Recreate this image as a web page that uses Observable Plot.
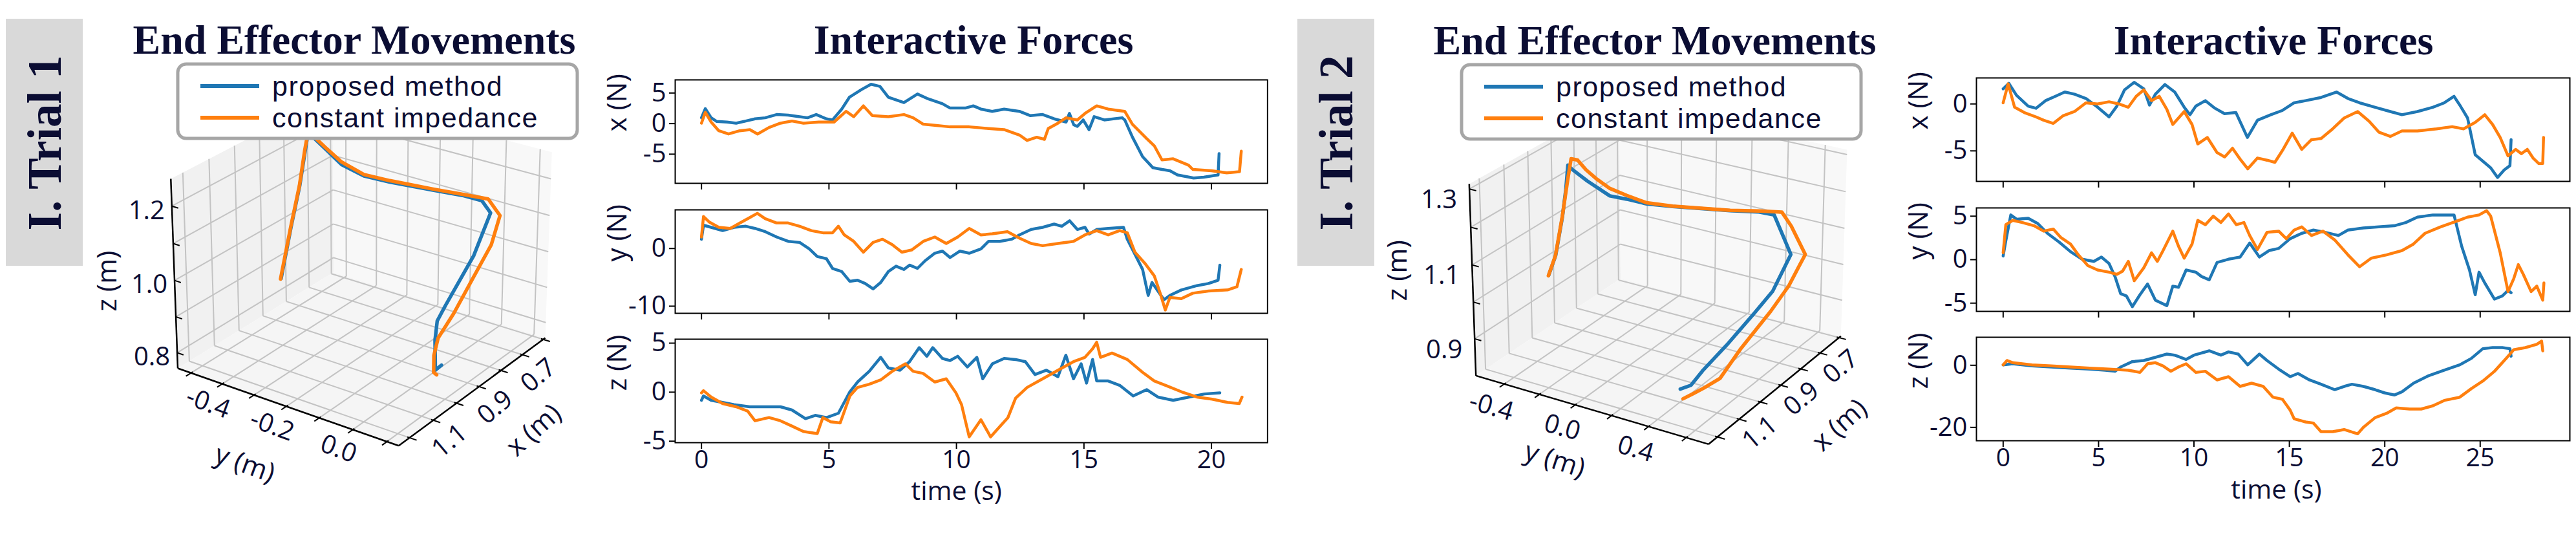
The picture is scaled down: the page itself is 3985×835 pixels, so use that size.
<!DOCTYPE html>
<html><head><meta charset="utf-8">
<script src="https://cdn.jsdelivr.net/npm/d3@7"></script>
<script src="https://cdn.jsdelivr.net/npm/@observablehq/plot@0.6"></script>
<style>
body{margin:0;background:#fff;}
#root{position:relative;width:3985px;height:835px;overflow:hidden;background:#fff;font-family:"Open Sans",sans-serif;}
</style></head>
<body><div id="root"></div>
<script>
const NAVY = "#0b0d33", BLUE = "#1f77b4", ORANGE = "#ff7f0e";

// ---------- Trial 1 : interactive forces [time s, force N] ----------
const t1x_prop = [[0,0.95],[0.15,2.44],[0.38,0.95],[0.6,0.35],[1.0,0.25],[1.36,0.07],[1.74,0.42],[2.1,0.78],[2.5,0.95],[2.95,1.48],[3.4,1.38],[3.85,1.13],[4.16,0.95],[4.5,1.48],[4.9,0.78],[5.14,0.6],[5.5,2.37],[5.8,4.3],[6.27,5.55],[6.65,6.43],[7.0,6.08],[7.33,4.31],[7.94,3.43],[8.47,4.84],[8.84,4.13],[9.45,3.25],[9.75,2.54],[10.35,2.54],[10.66,2.9],[10.96,2.37],[11.4,2.0],[11.87,2.37],[12.47,2.0],[12.9,1.3],[13.38,1.48],[13.83,0.78],[14.3,0.25],[14.43,1.66],[14.6,-0.2],[14.74,-0.46],[14.97,0.6],[15.2,-0.99],[15.4,1.13],[15.8,0.6],[16.5,0.95],[16.6,0.6],[16.9,-2.2],[17.3,-5.4],[17.7,-7.2],[18.06,-7.5],[18.37,-7.7],[18.67,-8.4],[19.3,-8.9],[19.7,-8.76],[20.26,-8.4],[20.3,-4.9]];
const t1x_const = [[0,0.07],[0.15,1.84],[0.38,0.25],[0.68,-1.17],[1.06,-1.7],[1.5,-1.17],[1.9,-0.99],[2.2,-1.7],[2.65,-0.64],[3.1,0.07],[3.55,0.42],[4.0,0.07],[4.6,0.25],[5.2,0.25],[5.67,2.0],[5.97,1.13],[6.35,2.9],[6.7,1.3],[7.33,1.13],[7.94,1.48],[8.3,0.95],[8.7,-0.1],[9.15,-0.28],[9.75,-0.53],[10.5,-0.53],[11.26,-0.81],[11.87,-0.99],[12.47,-1.87],[12.77,-2.76],[13.15,-2.23],[13.45,-2.58],[13.6,-0.81],[13.98,0.07],[14.3,0.95],[14.74,0.6],[15.04,1.66],[15.5,2.9],[15.95,2.37],[16.6,2.0],[16.9,-0.1],[17.45,-2.4],[17.76,-3.64],[18.06,-5.94],[18.5,-5.76],[19.1,-6.8],[19.27,-7.5],[20.0,-7.7],[20.6,-8.05],[21.1,-7.88],[21.17,-4.52]];
const t1y_prop = [[0,1.6],[0.08,4.04],[0.38,3.67],[0.83,3.1],[1.28,3.67],[1.74,3.86],[2.1,3.48],[2.5,2.92],[2.95,1.99],[3.4,1.24],[3.85,1.05],[4.23,-0.07],[4.54,-1.39],[4.9,-1.76],[5.14,-3.45],[5.5,-4.0],[5.82,-5.7],[6.12,-5.5],[6.42,-6.07],[6.73,-7.0],[7.03,-5.88],[7.33,-4.0],[7.63,-3.07],[7.94,-3.63],[8.16,-2.88],[8.47,-3.45],[8.77,-2.13],[9.15,-0.82],[9.45,-0.45],[9.75,-1.57],[10.13,-0.45],[10.5,-0.82],[10.96,-0.07],[11.26,1.24],[11.7,1.24],[12.17,1.61],[12.47,2.36],[12.93,3.3],[13.38,3.67],[13.83,4.23],[14.13,3.86],[14.44,4.8],[14.74,3.3],[15.04,3.67],[15.2,2.5],[15.5,3.3],[15.95,3.48],[16.55,3.67],[16.7,1.6],[17.0,-1.0],[17.3,-3.63],[17.52,-8.13],[17.67,-5.88],[17.9,-7.38],[18.14,-8.88],[18.37,-8.13],[18.82,-7.19],[19.43,-6.44],[19.88,-6.07],[20.26,-5.5],[20.33,-2.88]];
const t1y_const = [[0,1.99],[0.08,5.54],[0.3,4.6],[0.68,3.67],[1.13,3.48],[1.51,4.42],[1.89,5.36],[2.19,6.1],[2.5,5.17],[2.95,4.42],[3.4,4.42],[3.85,3.86],[4.31,3.1],[4.76,2.73],[5.14,2.73],[5.37,3.86],[5.6,2.36],[5.97,1.24],[6.35,-0.64],[6.73,1.05],[7.1,1.61],[7.48,0.67],[7.86,-0.64],[8.24,-0.26],[8.7,1.24],[9.15,1.99],[9.6,0.86],[10.05,1.99],[10.5,3.48],[10.96,2.36],[11.41,2.55],[12.0,2.92],[12.47,1.8],[12.93,0.86],[13.38,0.49],[13.98,0.86],[14.59,1.24],[15.04,2.36],[15.5,3.1],[15.95,2.36],[16.4,3.1],[16.7,2.73],[17.0,-0.64],[17.38,-2.51],[17.76,-4.76],[17.99,-7.75],[18.19,-10.67],[18.37,-8.5],[18.82,-8.69],[19.27,-7.75],[19.88,-7.38],[20.63,-7.19],[21.0,-6.63],[21.17,-3.63]];
const t1z_prop = [[0,-0.83],[0.08,-0.39],[0.38,-0.83],[0.83,-1.05],[1.28,-1.27],[1.89,-1.49],[2.5,-1.49],[3.1,-1.49],[3.55,-1.82],[4.08,-2.7],[4.46,-2.37],[4.91,-2.59],[5.37,-2.15],[5.82,0.04],[6.12,1.03],[6.58,2.13],[7.03,3.55],[7.33,2.46],[7.79,2.24],[8.16,3.11],[8.54,4.54],[8.84,3.66],[9.07,4.54],[9.45,3.44],[9.75,3.22],[10.05,3.66],[10.43,2.57],[10.8,3.55],[11.03,1.36],[11.41,2.89],[11.87,3.44],[12.32,3.33],[12.7,3.11],[13.08,1.8],[13.53,2.24],[13.98,1.58],[14.29,3.77],[14.59,1.36],[14.89,2.89],[15.1,0.92],[15.34,3.33],[15.5,1.14],[15.95,1.14],[16.4,0.7],[16.93,-0.39],[17.46,0.26],[17.9,-0.5],[18.5,-0.83],[19.12,-0.5],[19.73,-0.18],[20.33,-0.07]];
const t1z_const = [[0,-0.07],[0.08,0.15],[0.38,-0.5],[0.83,-1.16],[1.36,-1.49],[1.81,-1.93],[2.1,-2.92],[2.65,-2.59],[3.1,-2.92],[3.55,-3.46],[4.0,-4.01],[4.54,-4.23],[4.76,-2.59],[5.07,-3.03],[5.44,-3.14],[5.82,-0.39],[6.12,0.48],[6.58,0.81],[7.03,1.25],[7.48,2.13],[8.0,2.89],[8.3,2.13],[8.69,1.91],[9.15,1.03],[9.6,1.36],[9.98,-0.07],[10.2,-1.27],[10.5,-4.56],[10.96,-2.81],[11.34,-4.56],[11.72,-3.46],[12.02,-2.59],[12.32,-0.61],[12.77,0.48],[13.38,1.36],[13.98,2.24],[14.59,3.11],[15.04,3.55],[15.34,4.43],[15.5,5.09],[15.65,3.55],[16.1,3.99],[16.7,3.33],[17.3,2.02],[17.76,1.14],[18.2,0.7],[18.82,0.04],[19.43,-0.5],[20.03,-0.72],[20.63,-1.05],[21.09,-1.16],[21.2,-0.5]];

// ---------- Trial 2 : interactive forces ----------
const t2x_prop = [[0,1.61],[0.3,2.19],[0.7,0.92],[1.31,-0.23],[1.72,-0.46],[2.22,0.35],[2.73,0.81],[3.23,1.27],[3.74,1.04],[4.34,0.58],[4.95,-0.35],[5.55,-1.38],[5.96,-0.23],[6.36,1.5],[6.87,2.3],[7.37,1.61],[7.67,-0.12],[7.98,1.04],[8.48,2.07],[8.99,1.27],[9.49,-0.35],[9.79,-1.15],[10.1,-0.23],[10.6,0.35],[11.1,-0.46],[11.6,-1.04],[12.2,-0.92],[12.8,-3.57],[13.33,-1.73],[14.03,-1.15],[14.64,-0.69],[15.25,0.12],[15.85,0.35],[16.66,0.69],[17.47,1.27],[18.07,0.58],[18.68,0.12],[19.49,-0.35],[20.29,-0.81],[20.9,-1.15],[21.71,-0.81],[22.52,-0.35],[23.12,0.12],[23.63,0.81],[23.93,-0.12],[24.34,-1.5],[24.74,-5.41],[25.14,-6.1],[25.55,-6.8],[25.91,-7.83],[26.26,-7.03],[26.56,-6.57],[26.62,-3.8]];
const t2x_const = [[0,0.12],[0.26,2.14],[0.6,-0.35],[1.11,-0.92],[1.72,-1.38],[2.12,-1.73],[2.63,-2.07],[3.13,-1.27],[3.74,-0.81],[4.34,0.12],[4.95,0],[5.55,0.23],[6.06,0],[6.56,-0.35],[6.97,0.81],[7.37,1.5],[7.78,0.35],[8.18,0.81],[8.58,-0.58],[8.89,-2.19],[9.49,-0.81],[9.9,-2.19],[10.2,-4.26],[10.7,-3.57],[11.21,-5.18],[11.61,-5.65],[12.02,-4.72],[12.42,-5.88],[12.82,-6.91],[13.33,-5.76],[13.83,-5.99],[14.24,-6.22],[14.64,-4.95],[15.15,-3.11],[15.65,-4.84],[16.16,-3.8],[16.66,-3.69],[17.27,-2.65],[17.87,-1.5],[18.58,-0.81],[19.18,-1.84],[19.69,-3.0],[20.29,-3.46],[20.9,-2.88],[21.71,-2.88],[22.72,-2.65],[23.53,-2.42],[24.13,-2.65],[24.74,-1.96],[25.24,-1.15],[25.65,-2.19],[26.05,-3.57],[26.46,-5.53],[26.86,-4.84],[27.16,-5.3],[27.47,-4.84],[27.77,-5.76],[28.07,-6.34],[28.28,-6.34],[28.32,-3.57]];
const t2y_prop = [[0,0.42],[0.14,2.16],[0.4,5.14],[0.71,4.64],[1.31,4.76],[1.82,4.14],[2.32,3.03],[2.93,2.03],[3.53,0.92],[4.14,0.05],[4.75,-0.2],[5.15,0.3],[5.55,-0.45],[5.86,-1.94],[6.16,-3.92],[6.46,-4.17],[6.77,-5.41],[7.17,-4.04],[7.57,-2.8],[7.98,-4.66],[8.58,-5.29],[8.89,-3.05],[9.19,-3.18],[9.59,-1.19],[10.1,-1.44],[10.4,-1.94],[10.8,-2.31],[11.21,-0.32],[11.81,0.05],[12.42,0.3],[12.92,1.91],[13.43,0.3],[13.93,1.04],[14.44,1.29],[15.04,2.41],[15.65,3.03],[16.26,3.4],[16.86,3.15],[17.57,2.78],[18.07,3.4],[18.88,3.65],[19.69,3.77],[20.5,3.9],[21.1,4.27],[21.71,4.89],[22.52,5.14],[23.23,5.14],[23.63,5.14],[24.03,1.54],[24.44,-1.19],[24.74,-4.04],[24.94,-1.44],[25.24,-2.68],[25.75,-4.54],[26.16,-4.17],[26.46,-3.55],[26.62,-3.8]];
const t2y_const = [[0,0.79],[0.14,4.02],[0.5,4.52],[1.01,4.27],[1.62,3.9],[2.12,3.28],[2.63,3.52],[3.03,2.53],[3.53,1.79],[3.94,0.55],[4.44,-0.69],[4.95,-1.19],[5.55,-1.44],[5.96,-1.69],[6.26,-1.32],[6.56,-0.2],[6.87,-2.43],[7.37,-0.94],[7.78,0.79],[8.08,-0.2],[8.38,1.04],[8.89,3.28],[9.19,1.54],[9.49,0.17],[9.9,1.79],[10.2,4.52],[10.6,4.02],[11.01,5.01],[11.41,4.27],[11.81,5.26],[12.22,4.02],[12.62,4.27],[12.92,2.78],[13.33,1.17],[13.83,3.15],[14.44,3.28],[14.84,2.41],[15.25,3.4],[15.65,3.77],[16.16,2.78],[16.76,3.28],[17.37,2.28],[18.07,0.55],[18.68,-0.82],[19.29,0.17],[20.09,0.55],[20.9,1.04],[21.5,1.79],[22.11,3.03],[22.92,3.77],[23.73,4.39],[24.34,4.89],[24.94,5.14],[25.34,5.63],[25.55,5.01],[26.05,0.79],[26.46,-3.67],[26.76,-2.18],[27.0,-0.57],[27.26,-1.69],[27.67,-3.67],[27.97,-3.05],[28.28,-4.66],[28.34,-2.68]];
const t2z_prop = [[0,0.14],[0.5,0.49],[1.51,-0.21],[2.52,-0.56],[3.53,-0.9],[4.54,-1.25],[5.35,-1.6],[5.86,-1.94],[6.16,-0.56],[6.77,1.18],[7.37,1.53],[7.98,2.57],[8.58,3.61],[8.99,3.26],[9.59,1.88],[10.0,3.26],[10.8,4.65],[11.41,3.26],[11.81,4.31],[12.32,3.61],[12.82,0.14],[13.43,3.61],[13.83,1.53],[14.44,-1.25],[15.04,-3.68],[15.45,-2.64],[16.05,-4.72],[16.66,-6.11],[17.37,-7.85],[17.87,-6.81],[18.28,-6.11],[18.88,-6.81],[19.49,-7.85],[19.99,-8.89],[20.5,-9.58],[20.9,-8.54],[21.51,-5.76],[22.31,-3.33],[23.12,-1.6],[23.93,0.14],[24.54,2.22],[25.14,5.35],[25.65,5.69],[26.16,5.69],[26.56,5.35],[26.62,2.92]];
const t2z_const = [[0,0.14],[0.2,1.53],[0.5,0.83],[1.51,0.14],[2.52,-0.21],[3.53,-0.56],[4.54,-0.9],[5.55,-1.25],[6.56,-1.6],[7.17,-2.29],[7.57,0.49],[7.98,0.83],[8.38,-0.21],[8.79,-1.94],[9.19,-0.56],[9.59,0.49],[10.1,-2.29],[10.6,-1.94],[11.21,-4.72],[11.81,-3.68],[12.42,-6.81],[13.02,-5.76],[13.63,-6.81],[14.14,-10.28],[14.64,-10.97],[15.04,-14.44],[15.25,-17.22],[15.85,-18.26],[16.26,-18.61],[16.66,-21.39],[17.27,-21.39],[17.87,-20.69],[18.58,-22.08],[18.88,-20.0],[19.49,-16.88],[20.09,-15.49],[20.6,-13.75],[21.3,-14.1],[21.91,-14.1],[22.52,-13.06],[23.12,-11.32],[23.93,-10.28],[24.54,-7.5],[25.14,-5.07],[25.75,-1.94],[26.36,2.22],[26.76,5.0],[27.37,5.69],[27.97,6.74],[28.22,7.78],[28.28,4.65]];

// ---------- End effector trajectories [x m, y m, z m] ----------
const t1ee_prop = [[0.85,-0.520,0.850],[0.85,-0.485,1.006],[0.85,-0.455,1.130],[0.85,-0.436,1.232],[0.85,-0.429,1.268],[0.85,-0.408,1.272],[0.85,-0.374,1.252],[0.85,-0.322,1.221],[0.85,-0.253,1.207],[0.85,-0.174,1.210],[0.85,-0.042,1.221],[0.85,0.045,1.229],[0.85,0.098,1.229],[0.86,0.130,1.209],[0.89,0.104,1.101],[0.92,0.043,0.960],[0.93,0.027,0.919],[0.94,0.028,0.870],[0.95,0.037,0.795],[0.95,0.055,0.814]];
const t1ee_const = [[0.85,-0.522,0.848],[0.85,-0.486,1.006],[0.85,-0.456,1.130],[0.85,-0.437,1.235],[0.85,-0.429,1.272],[0.85,-0.408,1.276],[0.85,-0.374,1.256],[0.85,-0.322,1.228],[0.85,-0.253,1.211],[0.85,-0.174,1.214],[0.85,-0.042,1.224],[0.85,0.045,1.232],[0.85,0.116,1.238],[0.86,0.157,1.209],[0.88,0.147,1.137],[0.90,0.110,1.047],[0.92,0.069,0.948],[0.94,0.037,0.879],[0.95,0.032,0.834],[0.95,0.032,0.787],[0.95,0.041,0.783]];
const t2ee_prop = [[0.97,-0.499,0.971],[0.97,-0.456,1.031],[0.97,-0.412,1.144],[0.97,-0.390,1.220],[0.97,-0.376,1.286],[0.965,-0.360,1.275],[0.955,-0.286,1.248],[0.94,-0.180,1.215],[0.93,-0.098,1.212],[0.92,0.001,1.207],[0.905,0.125,1.209],[0.89,0.264,1.214],[0.875,0.403,1.219],[0.86,0.540,1.226],[0.85,0.609,1.223],[0.80,0.649,1.103],[0.86,0.620,1.024],[0.91,0.574,0.977],[0.98,0.511,0.915],[1.04,0.452,0.864],[1.07,0.424,0.834],[1.09,0.390,0.828]];
const t2ee_const = [[0.97,-0.501,0.969],[0.97,-0.457,1.031],[0.97,-0.413,1.144],[0.97,-0.378,1.248],[0.97,-0.357,1.305],[0.965,-0.327,1.303],[0.96,-0.287,1.280],[0.95,-0.244,1.258],[0.94,-0.179,1.235],[0.93,-0.097,1.222],[0.92,0.001,1.210],[0.905,0.125,1.210],[0.89,0.264,1.215],[0.875,0.403,1.220],[0.86,0.543,1.229],[0.85,0.649,1.235],[0.83,0.679,1.194],[0.79,0.715,1.107],[0.80,0.695,1.078],[0.83,0.673,1.033],[0.88,0.633,0.980],[0.96,0.566,0.905],[1.03,0.534,0.850],[1.07,0.493,0.836],[1.095,0.467,0.829],[1.116,0.436,0.820]];

// ---------- tick values ----------
const t1_timeTicks = [0,5,10,15,20];
const t2_timeTicks = [0,5,10,15,20,25];
const t1_fxTicks = [5,0,-5], t1_fyTicks = [0,-10], t1_fzTicks = [5,0,-5];
const t2_fxTicks = [0,-5], t2_fyTicks = [5,0,-5], t2_fzTicks = [0,-20];
const t1_xTicks = [0.6,0.7,0.8,0.9,1.0,1.1,1.2], t1_yTicks = [-0.5,-0.4,-0.3,-0.2,-0.1,0.0,0.1], t1_zTicks = [0.8,0.9,1.0,1.1,1.2];
const t1_xLab = [1.1,0.9,0.7], t1_yLab = [-0.4,-0.2,0.0], t1_zLab = [0.8,1.0,1.2];
const t2_xTicks = [0.6,0.7,0.8,0.9,1.0,1.1,1.2], t2_yTicks = [-0.4,-0.2,0.0,0.2,0.4,0.6], t2_zTicks = [0.9,1.0,1.1,1.2,1.3];
const t2_xLab = [1.1,0.9,0.7], t2_yLab = [-0.4,0.0,0.4], t2_zLab = [0.9,1.1,1.3];

const root = document.getElementById("root");
function place(el, left, top) {
  el.style.position = "absolute"; el.style.left = left + "px"; el.style.top = top + "px";
  el.style.maxWidth = "none";
  root.appendChild(el);
}
const fmt = d => String(d);

// ---------- force panels ----------
function forcePanel(o) {
  const ml = 150, mr = 10, mt = 10, mb = o.showX ? 125 : 24;
  const marks = [
    Plot.line(o.blue, {x: d => d[0], y: d => d[1], stroke: BLUE, strokeWidth: 4.5, strokeLinejoin: "round"}),
    Plot.line(o.orange, {x: d => d[0], y: d => d[1], stroke: ORANGE, strokeWidth: 4.5, strokeLinejoin: "round"}),
    Plot.frame({stroke: "black", strokeWidth: 2}),
    Plot.axisY({ticks: o.yTicks, tickSize: 9, tickPadding: 5, fontSize: 40, tickFormat: fmt, label: null, stroke: "black", strokeWidth: 2, fill: NAVY}),
    Plot.axisX({ticks: o.xTicks, tickSize: 10, tickPadding: 2, fontSize: 39, tickFormat: o.showX ? fmt : () => "", label: null, stroke: "black", strokeWidth: 2, fill: NAVY}),
    Plot.text([o.ylabel], {text: d => d, frameAnchor: "left", dx: -89, rotate: -90, fontSize: 42, fill: NAVY})
  ];
  if (o.showX) marks.push(Plot.text(["time (s)"], {text: d => d, frameAnchor: "bottom", dy: 89, dx: o.timeDx, fontSize: 41, fill: NAVY}));
  const p = Plot.plot({
    width: ml + o.w + mr, height: mt + o.h + mb,
    marginLeft: ml, marginRight: mr, marginTop: mt, marginBottom: mb,
    x: {domain: o.xDomain, axis: null}, y: {domain: o.yDomain, axis: null},
    style: {fontFamily: "'Open Sans', sans-serif", background: "transparent", overflow: "visible"},
    marks
  });
  place(p, o.left - ml, o.top - mt);
}

// ---------- 3D projection (matplotlib-like perspective) ----------
function makeProj(v) {
  const asp = [4,4,3], n = Math.hypot(...asp), f = 1.8294640721620434 / n;
  const half = asp.map(a => a * f / 2);
  const el = v.elev * Math.PI / 180, az = v.azim * Math.PI / 180, dist = 10;
  const e = [Math.cos(el)*Math.cos(az), Math.cos(el)*Math.sin(az), Math.sin(el)];
  const r = [-Math.sin(az), Math.cos(az), 0];
  const u = [-Math.cos(az)*Math.sin(el), -Math.sin(az)*Math.sin(el), Math.cos(el)];
  const nx = (val, [a,b]) => ((val - a) / (b - a)) * 2 - 1;
  return ([x,y,z]) => {
    const P = [nx(x, v.xlim)*half[0], nx(y, v.ylim)*half[1], nx(z, v.zlim)*half[2]];
    const depth = dist - (P[0]*e[0] + P[1]*e[1] + P[2]*e[2]);
    return [(P[0]*r[0] + P[1]*r[1]) / depth, (P[0]*u[0] + P[1]*u[1] + P[2]*u[2]) / depth];
  };
}

function panel3D(o) {
  const v = o.view, proj = makeProj(v);
  const [x0,x1] = v.xlim, [y0,y1] = v.ylim, [z0,z1] = v.zlim;
  const L = proj([x1,y0,z0]), R = proj([x0,y1,z0]), Lt = proj([x1,y0,z1]);
  const a = (o.anchor.R - o.anchor.L) / (R[0] - L[0]);
  const xDom = [L[0] - o.anchor.L / a, L[0] + (o.W - o.anchor.L) / a];
  const c = (o.anchor.top - o.anchor.bottom) / (Lt[1] - L[1]);
  const yDom = [L[1] + (o.H - o.anchor.bottom) / c, L[1] - o.anchor.bottom / c];
  const pt = p => { const s = proj(p); return {sx: s[0], sy: s[1]}; };
  const sg = (p, q) => { const s = proj(p), t = proj(q); return {x1: s[0], y1: s[1], x2: t[0], y2: t[1]}; };
  const floor = [[x0,y0,z0],[x1,y0,z0],[x1,y1,z0],[x0,y1,z0]].map(pt);
  const wallY = [[x0,y0,z0],[x1,y0,z0],[x1,y0,z1],[x0,y0,z1]].map(pt);
  const wallX = [[x0,y0,z0],[x0,y1,z0],[x0,y1,z1],[x0,y0,z1]].map(pt);
  const grid = [
    ...o.ticks.x.flatMap(t => [sg([t,y0,z0],[t,y1,z0]), sg([t,y0,z0],[t,y0,z1])]),
    ...o.ticks.y.flatMap(t => [sg([x0,t,z0],[x1,t,z0]), sg([x0,t,z0],[x0,t,z1])]),
    ...o.ticks.z.flatMap(t => [sg([x0,y0,t],[x1,y0,t]), sg([x0,y0,t],[x0,y1,t])])
  ];
  const axes = [sg([x1,y0,z0],[x1,y0,z1]), sg([x1,y0,z0],[x1,y1,z0]), sg([x1,y1,z0],[x0,y1,z0])];
  const xr = x1 - x0, yr = y1 - y0;
  const tks = [
    ...o.ticks.y.map(t => sg([x1 - 0.01*xr, t, z0], [x1 + 0.03*xr, t, z0])),
    ...o.ticks.x.map(t => sg([t, y1 - 0.01*yr, z0], [t, y1 + 0.03*yr, z0])),
    ...o.ticks.z.map(t => sg([x1, y0, t], [x1, y0 + 0.03*yr, t]))
  ];
  const lab = (arr, f) => arr.map(t => ({...pt(f(t)), t: t.toFixed(1)}));
  const yl = lab(o.labels.y, t => [x1, t, z0]);
  const xl = lab(o.labels.x, t => [t, y1, z0]);
  const zl = lab(o.labels.z, t => [x1, y0, t]);
  const zMid = [pt([x1, y0, (z0+z1)/2])], yMid = [pt([x1, (y0+y1)/2, z0])], xMid = [pt([(x0+x1)/2, y1, z0])];
  const of = o.off;
  const txt = (d, off, rot, s) => Plot.text(d, {x: "sx", y: "sy", text: s ? () => s : "t", dx: off[0], dy: off[1], rotate: rot, fontSize: s ? 42 : 40, fill: NAVY});
  const p = Plot.plot({
    width: o.W, height: o.H, margin: 0,
    x: {domain: xDom, range: [0, o.W], axis: null},
    y: {domain: yDom, range: [o.H, 0], axis: null},
    style: {fontFamily: "'Open Sans', sans-serif", background: "transparent", overflow: "visible"},
    marks: [
      Plot.line(wallY, {x: "sx", y: "sy", fill: "#f1f1f1", stroke: "none"}),
      Plot.line(wallX, {x: "sx", y: "sy", fill: "#f8f8f8", stroke: "none"}),
      Plot.line(floor, {x: "sx", y: "sy", fill: "#f5f5f5", stroke: "none"}),
      Plot.link(grid, {x1: "x1", y1: "y1", x2: "x2", y2: "y2", stroke: "#c3c3c3", strokeWidth: 2}),
      Plot.link(axes, {x1: "x1", y1: "y1", x2: "x2", y2: "y2", stroke: "black", strokeWidth: 2.5}),
      Plot.link(tks, {x1: "x1", y1: "y1", x2: "x2", y2: "y2", stroke: "black", strokeWidth: 2}),
      Plot.line(o.blue.map(pt), {x: "sx", y: "sy", stroke: BLUE, strokeWidth: 5.5, strokeLinejoin: "round", strokeLinecap: "round"}),
      Plot.line(o.orange.map(pt), {x: "sx", y: "sy", stroke: ORANGE, strokeWidth: 5.5, strokeLinejoin: "round", strokeLinecap: "round"}),
      txt(yl, of.y, of.yRot), txt(xl, of.x, of.xRot), txt(zl, of.z, 0),
      txt(zMid, of.zName, -90, "z (m)"), txt(yMid, of.yName, of.yNameRot, "y (m)"), txt(xMid, of.xName, of.xNameRot, "x (m)")
    ]
  });
  place(p, o.left, o.top);
}

// ---------- Trial 1 ----------
panel3D({
  left: 150, top: 190, W: 760, H: 600,
  view: {elev: 25, azim: 35, xlim: [0.59, 1.245], ylim: [-0.543, 0.134], zlim: [0.756, 1.272]},
  anchor: {L: 124.5, R: 693, bottom: 379, top: 86},
  ticks: {x: t1_xTicks, y: t1_yTicks, z: t1_zTicks},
  labels: {x: t1_xLab, y: t1_yLab, z: t1_zLab},
  off: {y: [-22, 30], yRot: 20, x: [25, 32], xRot: -40, z: [-39, 7], zName: [-103, 9], yName: [-62, 90], yNameRot: 20, xName: [91, 63], xNameRot: -42},
  blue: t1ee_prop, orange: t1ee_const
});
const t1x = {left: 1044.4, w: 916.4, h: 160, xDomain: [-1.03, 22.2], xTicks: t1_timeTicks, timeDx: -23};
forcePanel({...t1x, top: 123, yDomain: [-9.77, 7.15], yTicks: t1_fxTicks, blue: t1x_prop, orange: t1x_const, ylabel: "x (N)"});
forcePanel({...t1x, top: 324, yDomain: [-11.24, 6.7], yTicks: t1_fyTicks, blue: t1y_prop, orange: t1y_const, ylabel: "y (N)"});
forcePanel({...t1x, top: 524, yDomain: [-5.15, 5.4], yTicks: t1_fzTicks, blue: t1z_prop, orange: t1z_const, ylabel: "z (N)", showX: true});

// ---------- Trial 2 ----------
panel3D({
  left: 2140, top: 190, W: 780, H: 600,
  view: {elev: 24, azim: 31.5, xlim: [0.59, 1.24], ylim: [-0.564, 0.717], zlim: [0.798, 1.313]},
  anchor: {L: 142.7, R: 707.3, bottom: 390.4, top: 94},
  ticks: {x: t2_xTicks, y: t2_yTicks, z: t2_zTicks},
  labels: {x: t2_xLab, y: t2_yLab, z: t2_zLab},
  off: {y: [-20, 35], yRot: 16, x: [32, 21], xRot: -40, z: [-47, 17], zName: [-116, -17], yName: [-53, 79], yNameRot: 18, xName: [96, 58], xNameRot: -42},
  blue: t2ee_prop, orange: t2ee_const
});
const t2x = {left: 3057.4, w: 918, h: 160, xDomain: [-1.4, 29.7], xTicks: t2_timeTicks, timeDx: 5};
forcePanel({...t2x, top: 120, yDomain: [-8.25, 2.77], yTicks: t2_fxTicks, blue: t2x_prop, orange: t2x_const, ylabel: "x (N)"});
forcePanel({...t2x, top: 321, yDomain: [-5.95, 5.95], yTicks: t2_fyTicks, blue: t2y_prop, orange: t2y_const, ylabel: "y (N)"});
forcePanel({...t2x, top: 521, yDomain: [-24.3, 9.02], yTicks: t2_fzTicks, blue: t2z_prop, orange: t2z_const, ylabel: "z (N)", showX: true});

// ---------- overlay: tags, titles, legends ----------
const svg = d3.create("svg").attr("width", 3985).attr("height", 835)
  .style("position", "absolute").style("left", "0px").style("top", "0px").style("pointer-events", "none");
const serif = "'Liberation Serif', 'Times New Roman', serif";
[[9, 69, "I. Trial 1"], [2007, 2067, "I. Trial 2"]].forEach(([x, cx, s]) => {
  svg.append("rect").attr("x", x).attr("y", 29).attr("width", 119).attr("height", 382).attr("fill", "#d9d9d9");
  svg.append("text").attr("transform", `translate(${cx},221) rotate(-90)`).attr("text-anchor", "middle")
    .attr("dominant-baseline", "central").attr("font-family", serif).attr("font-weight", "bold")
    .attr("font-size", 73).attr("fill", NAVY).text(s);
});
[[548, 83, "End Effector Movements"], [1506, 83, "Interactive Forces"], [2560, 84, "End Effector Movements"], [3517, 84, "Interactive Forces"]]
  .forEach(([x, y, s]) => svg.append("text").attr("x", x).attr("y", y).attr("text-anchor", "middle")
    .attr("font-family", serif).attr("font-weight", "bold").attr("font-size", 64).attr("fill", NAVY).text(s));
const legendItems = [["proposed method", BLUE], ["constant impedance", ORANGE]];
[[275, 99], [2261, 100]].forEach(([x, y]) => {
  svg.append("rect").attr("x", x).attr("y", y).attr("width", 618).attr("height", 115).attr("rx", 13)
    .attr("fill", "white").attr("stroke", "#a6a6a6").attr("stroke-width", 5);
  legendItems.forEach(([s, col], i) => {
    const cy = y + 34 + i * 49;
    svg.append("line").attr("x1", x + 35).attr("x2", x + 126).attr("y1", cy).attr("y2", cy)
      .attr("stroke", col).attr("stroke-width", 6);
    svg.append("text").attr("x", x + 146).attr("y", cy + 15).attr("letter-spacing", "1.5px")
      .attr("font-family", "'Liberation Sans', Arial, sans-serif").attr("font-size", 43).attr("fill", NAVY).text(s);
  });
});
root.appendChild(svg.node());
</script>
</body></html>
